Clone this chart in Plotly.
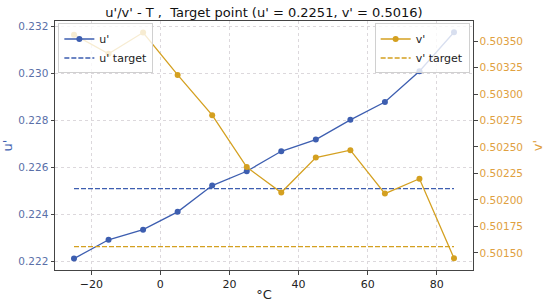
import plotly.graph_objects as go

temps = [-25, -15, -5, 5, 15, 25, 35, 45, 55, 65, 75, 85]
u_vals = [0.22212, 0.22292, 0.22335, 0.22411, 0.22523, 0.22584,
          0.22669, 0.22719, 0.22803, 0.22879, 0.23010, 0.23176]
v_vals = [0.50356, 0.50338, 0.50358, 0.50318, 0.50280, 0.50231,
          0.50207, 0.50240, 0.50247, 0.50206, 0.50220, 0.50145]
u_target = 0.2251
v_target = 0.50156

azul = "#3d5eb0"
ouro = "#d4a020"
fonte = "DejaVu Sans"

fig = go.Figure()

fig.add_trace(go.Scatter(x=temps, y=u_vals, mode="lines+markers", name="u'",
                         line=dict(color=azul, width=1.3),
                         marker=dict(size=6, color=azul), legend="legend"))
fig.add_trace(go.Scatter(x=[temps[0], temps[-1]], y=[u_target, u_target], mode="lines",
                         name="u' target", line=dict(color=azul, width=1.3, dash="5px,2px"),
                         legend="legend"))
fig.add_trace(go.Scatter(x=temps, y=v_vals, mode="lines+markers", name="v'", yaxis="y2",
                         line=dict(color=ouro, width=1.3),
                         marker=dict(size=6, color=ouro), legend="legend2"))
fig.add_trace(go.Scatter(x=[temps[0], temps[-1]], y=[v_target, v_target], mode="lines",
                         name="v' target", yaxis="y2",
                         line=dict(color=ouro, width=1.3, dash="5px,2px"), legend="legend2"))

eixo = dict(showline=True, linecolor="#444", linewidth=1, mirror=True,
            ticks="outside", ticklen=3.5, tickcolor="#444", zeroline=False)

fig.update_layout(
    width=550, height=304,
    margin=dict(l=55, r=77, t=21, b=34),
    plot_bgcolor="white", paper_bgcolor="white",
    font=dict(family=fonte, size=11, color="#222"),
    title=dict(text="u'/v' - T ,  Target point (u' = 0.2251, v' = 0.5016)",
               x=0.48, xanchor="center", y=0.96, yanchor="middle",
               font=dict(size=13, color="#111")),
    xaxis=dict(range=[-30.5, 90.5], tickvals=[-20, 0, 20, 40, 60, 80],
               showgrid=True, gridcolor="#dcd8dc", griddash="dot",
               title=dict(text="°C", font=dict(size=13), standoff=0),
               tickfont=dict(size=11, color="#222"), automargin=False, **eixo),
    yaxis=dict(range=[0.221633, 0.23224], dtick=0.002, tick0=0.222, tickformat=".3f",
               showgrid=True, gridcolor="#dcd8dc", griddash="dot",
               title=dict(text="u'", font=dict(size=13, color=azul), standoff=8),
               tickfont=dict(size=10.5, color="#5a6fa8"), automargin=False, **eixo),
    yaxis2=dict(range=[0.501339, 0.503689], dtick=0.00025, tick0=0.5015, tickformat=".5f",
                overlaying="y", side="right", showgrid=False,
                title=dict(text="v'", font=dict(size=13, color="#e0a040"), standoff=10),
                tickfont=dict(size=10.5, color="#e0a040"), automargin=False,
                showline=True, linecolor="#444", ticks="outside", ticklen=3.5,
                tickcolor="#444", zeroline=False),
    legend=dict(x=0.008, y=0.99, xanchor="left", yanchor="top", itemwidth=30,
                bgcolor="rgba(255,255,255,0.8)", bordercolor="#d0d0d0", borderwidth=1,
                font=dict(size=11), tracegroupgap=0),
    legend2=dict(x=0.992, y=0.99, xanchor="right", yanchor="top", itemwidth=30,
                 bgcolor="rgba(255,255,255,0.8)", bordercolor="#d0d0d0", borderwidth=1,
                 font=dict(size=11), tracegroupgap=0),
)

# tira a margem padrao do body para o grafico ficar alinhado na janela
fig.write_html("out.html", config={"displayModeBar": False},
               post_script="document.body.style.margin='0';")
